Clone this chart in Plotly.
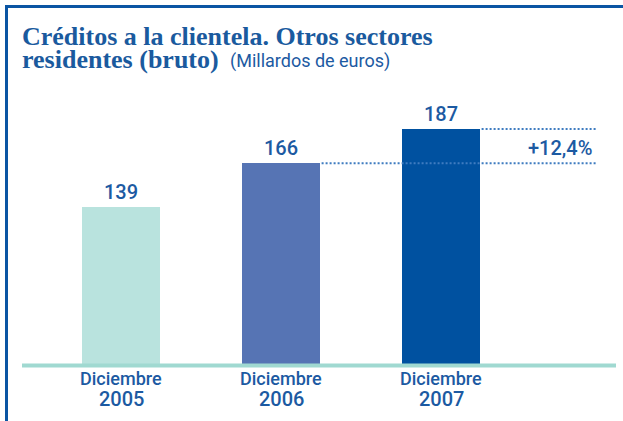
import plotly.graph_objects as go

categories = ["Diciembre 2005", "Diciembre 2006", "Diciembre 2007"]
tick_line1 = ["Diciembre", "Diciembre", "Diciembre"]
tick_line2 = ["2005", "2006", "2007"]
values = [139, 166, 187]
value_labels = ["139", "166", "187"]
bar_colors = ["#b9e3de", "#5674b4", "#0051a0"]
growth_label = "+12,4%"
title_line1 = "Créditos a la clientela. Otros sectores"
title_line2 = "residentes (bruto)"
subtitle = "(Millardos de euros)"

W, H = 623, 421
L, R, T, B = 22, 7, 100, 57
PW, PH = W - L - R, H - T - B
X0 = 121          # pixel centre of first category
STEP = 160        # pixels between categories
YMIN, YMAX = 42.9, 204.8

TEXT = "#1c5aa2"
NUM = "Roboto, Arial, sans-serif"
SERIF = "Liberation Serif, Times New Roman, serif"


def px_x(px):
    return (px - L) / PW


def px_y(py):
    return (H - B - py) / PH


xpos = list(range(len(categories)))
bw = 78 / STEP

fig = go.Figure()
fig.add_trace(go.Bar(
    x=xpos, y=values, width=bw,
    marker=dict(color=bar_colors, line=dict(width=0)),
    text=value_labels, textposition="outside", cliponaxis=False,
    textfont=dict(family=NUM, size=20, color=TEXT, weight=500),
    hoverinfo="skip",
))

shapes = []
# baseline
shapes.append(dict(type="line", xref="paper", yref="paper", x0=0, x1=1,
                   y0=px_y(365.5), y1=px_y(365.5),
                   line=dict(color="#a0d9d1", width=4)))
# frame
shapes.append(dict(type="line", xref="paper", yref="paper", x0=px_x(5), x1=px_x(623),
                   y0=px_y(6.5), y1=px_y(6.5), line=dict(color="#0a55a3", width=3)))
shapes.append(dict(type="line", xref="paper", yref="paper", x0=px_x(6.5), x1=px_x(6.5),
                   y0=px_y(5), y1=px_y(421), line=dict(color="#0a55a3", width=3)))
# dotted reference lines at tops of 2006 and 2007 bars
xend = (597 - X0) / STEP
for i in (1, 2):
    shapes.append(dict(type="line", xref="x", yref="y",
                       x0=xpos[i] + bw / 2 + 0.01, x1=xend,
                       y0=values[i], y1=values[i],
                       line=dict(color="#3f7cc0", width=2, dash="2px,2px")))

ann = []
for i in xpos:
    ann.append(dict(x=i, y=px_y(378), xref="x", yref="paper", text=tick_line1[i],
                    showarrow=False, xanchor="center", yanchor="middle",
                    font=dict(family=NUM, size=18, color=TEXT, weight=500)))
    ann.append(dict(x=i, y=px_y(398.5), xref="x", yref="paper", text=tick_line2[i],
                    showarrow=False, xanchor="center", yanchor="middle",
                    font=dict(family=NUM, size=20, color=TEXT, weight=500)))
ann.append(dict(x=(593.5 - X0) / STEP, y=px_y(147.5), xref="x", yref="paper",
                text=growth_label, showarrow=False, xanchor="right", yanchor="middle",
                font=dict(family=NUM, size=20, color=TEXT, weight=500)))
ann.append(dict(x=px_x(20), y=px_y(36.7), xref="paper", yref="paper",
                text="<b>" + title_line1 + "</b>", showarrow=False,
                xanchor="left", yanchor="middle",
                font=dict(family=SERIF, size=26, color="#1a5a9e")))
ann.append(dict(x=px_x(20), y=px_y(59.2), xref="paper", yref="paper",
                text="<b>" + title_line2 + "</b>", showarrow=False,
                xanchor="left", yanchor="middle",
                font=dict(family=SERIF, size=26, color="#1a5a9e")))
ann.append(dict(x=px_x(228), y=px_y(61), xref="paper", yref="paper",
                text=subtitle, showarrow=False,
                xanchor="left", yanchor="middle",
                font=dict(family=NUM, size=18, color=TEXT)))

fig.update_layout(
    width=W, height=H,
    margin=dict(l=L, r=R, t=T, b=B, pad=0),
    paper_bgcolor="white", plot_bgcolor="white",
    showlegend=False,
    bargap=0,
    xaxis=dict(range=[-X0 / STEP + L / STEP, (PW + L - X0) / STEP], visible=False, fixedrange=True),
    yaxis=dict(range=[YMIN, YMAX], visible=False, fixedrange=True),
    shapes=shapes, annotations=ann,
)
fig.write_html("out.html", config={"displayModeBar": False},
               post_script="document.body.style.margin='0';document.body.style.padding='0';")
